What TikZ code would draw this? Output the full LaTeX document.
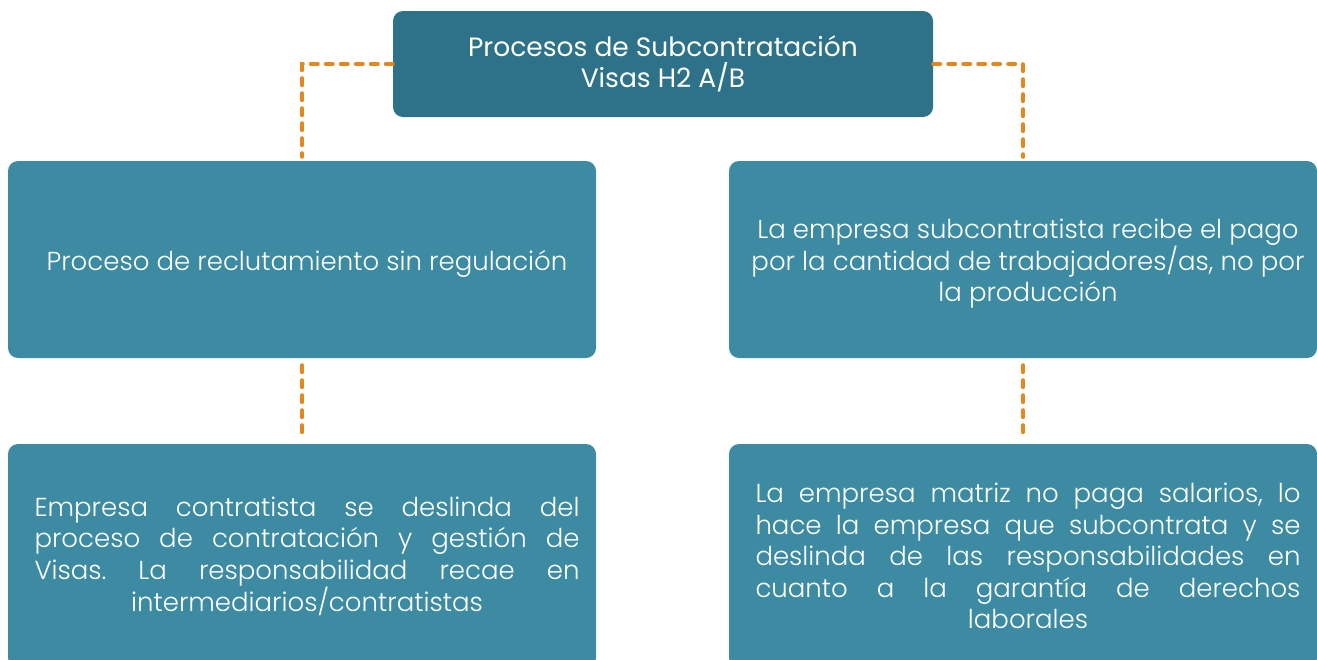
\documentclass[tikz,border=0pt]{standalone}
\usepackage{fontspec}
\setmainfont{Poppins}
\newfontfamily\lightfont{Poppins Light}
\frenchspacing
\definecolor{topblue}{RGB}{46,114,138}
\definecolor{midblue}{RGB}{61,139,162}
\definecolor{dashorange}{RGB}{228,136,30}
\tikzset{
  topbox/.style={fill=topblue, rounded corners=10pt, minimum width=540pt, minimum height=106pt, text=white, align=center, font=\fontsize{26.5}{31}\selectfont, inner sep=0pt},
  infobox/.style={fill=midblue, rounded corners=10pt, minimum width=588pt, text=white, align=center, font=\lightfont\fontsize{26}{31.6}\selectfont, inner sep=0pt},
  conn/.style={draw=dashorange, line width=4pt, line cap=round, dash pattern=on 7pt off 8pt},
}
\newcommand{\sh}{\hspace*{10pt}}
\newcommand{\jline}[1]{\sh\makebox[545pt][s]{#1}}
\newcommand{\upstrut}{\rule{0pt}{28pt}}
\begin{document}
\begin{tikzpicture}[x=1pt,y=-1pt]
\useasboundingbox (0,0) rectangle (1317,659);
\clip (0,0) rectangle (1317,659);
\node[topbox] (top) at (663,64) {Procesos de Subcontratación\\Visas H2 A/B};
\node[infobox, minimum height=197pt] (l1) at (302,259.5) {\upstrut\sh Proceso de reclutamiento sin regulación};
\node[infobox, minimum height=197pt] (r1) at (1023,259.5) {\upstrut\sh La empresa subcontratista recibe el pago\\\sh por la cantidad de trabajadores/as, no por\\\sh la producción};
\node[infobox, minimum height=224pt] (l2) at (302,556) {\jline{Empresa contratista se deslinda del}\\\jline{proceso de contratación y gestión de}\\\jline{Visas. La responsabilidad recae en}\\\sh intermediarios/contratistas};
\node[infobox, minimum height=224pt] (r2) at (1023,556) {\jline{La empresa matriz no paga salarios, lo}\\\jline{hace la empresa que subcontrata y se}\\\jline{deslinda de las responsabilidades en}\\\jline{cuanto a la garantía de derechos}\\\sh laborales};
\draw[conn, shorten >=4pt] (top.west) -| (l1.north);
\draw[conn, shorten >=4pt] (top.east) -| (r1.north);
\draw[conn, shorten <=7pt, shorten >=4pt] (l1.south) -- (l2.north);
\draw[conn, shorten <=7pt, shorten >=4pt] (r1.south) -- (r2.north);
\end{tikzpicture}
\end{document}
